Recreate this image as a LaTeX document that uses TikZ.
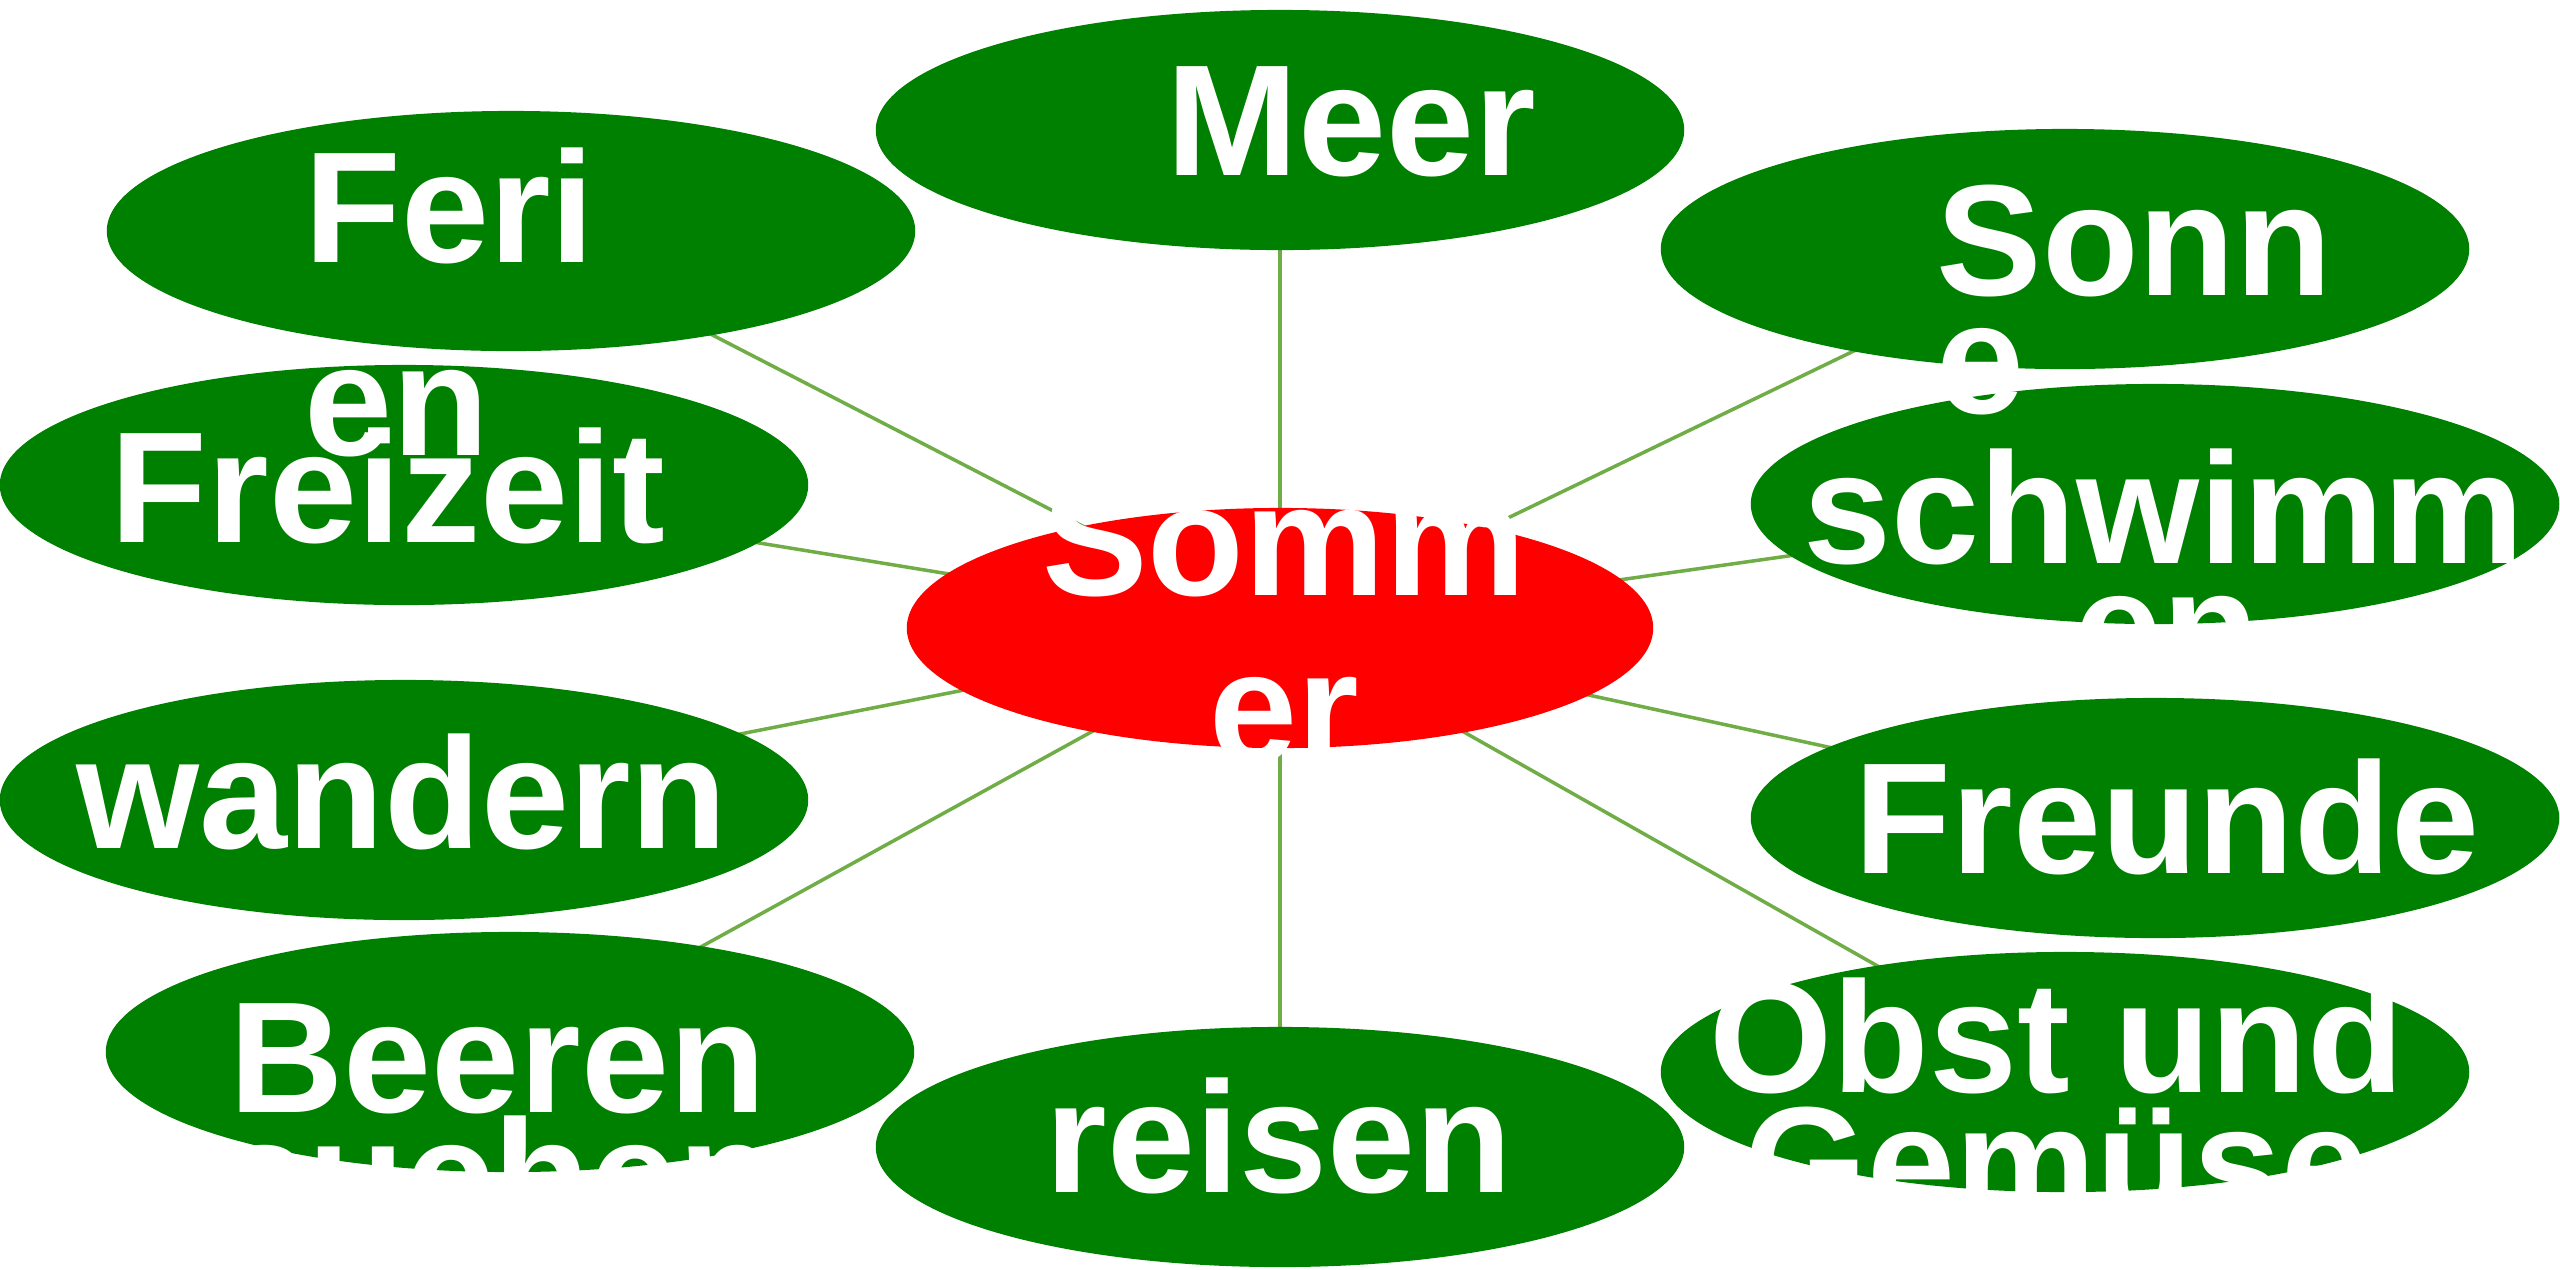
\documentclass[tikz,border=0pt]{standalone}
\usepackage{fontspec}
\setmainfont{Liberation Sans}
\usetikzlibrary{shapes.geometric}
\usetikzlibrary{backgrounds}
\definecolor{leafgreen}{RGB}{0,128,0}
\definecolor{linkgreen}{RGB}{112,173,71}

\begin{document}
\begin{tikzpicture}
[x = 0.01cm, y = -0.01cm,
link/.style = {draw = linkgreen, line width = 1pt},
topic/.style = {ellipse, fill = leafgreen, minimum width = 8.08cm, minimum height = 2.4cm, inner sep = 0pt},
core/.style = {ellipse, fill = red, minimum width = 7.46cm, minimum height = 2.4cm, inner sep = 0pt},
word/.style = {text = white, font = \bfseries\fontsize{45}{54}\selectfont, inner sep = 0pt}]

\useasboundingbox (0, 0) rectangle (2560, 1269);

\node[topic] (meer) at (1280, 130) {};
\node[topic] (ferien) at (511, 231) {};
\node[topic] (sonne) at (2065, 249) {};
\node[topic] (freizeit) at (404, 485) {};
\node[topic] (schwimmen) at (2155, 504) {};
\node[core] (sommer) at (1280, 628) {};
\node[topic] (wandern) at (404, 800) {};
\node[topic] (freunde) at (2155, 818) {};
\node[topic] (beeren) at (510, 1052) {};
\node[topic] (obst) at (2065, 1072) {};
\node[topic] (reisen) at (1280, 1147) {};

\begin{scope}[on background layer]
\draw[link] (sommer.center) -- (meer.center);
\draw[link] (sommer.center) -- (ferien.center);
\draw[link] (sommer.center) -- (sonne.center);
\draw[link] (sommer.center) -- (freizeit.center);
\draw[link] (sommer.center) -- (schwimmen.center);
\draw[link] (sommer.center) -- (wandern.center);
\draw[link] (sommer.center) -- (freunde.center);
\draw[link] (sommer.center) -- (beeren.center);
\draw[link] (sommer.center) -- (obst.center);
\draw[link] (sommer.center) -- (reisen.center);
\end{scope}

% labels, wrapped as in the picture
\node[word, anchor = base] (meer text) at (1351, 175) {Meer};
\node[word, anchor = base west] (ferien text) at (304, 262) {Feri};
\node[word, anchor = base west] (ferien rest) at (304, 455) {en};
\node[word, anchor = base west] (sonne text) at (1936, 295) {Sonn};
\node[word, anchor = base west] (sonne rest) at (1936, 413) {e};
\node[word, anchor = base] (freizeit text) at (388, 542) {Freizeit};
\node[word, anchor = base] (schwimmen text) at (2164, 563) {schwimm};
\node[word, anchor = base] (schwimmen rest) at (2167, 681) {en};
\node[word, anchor = base] (sommer text) at (1284, 595) {Somm};
\node[word, anchor = base] (sommer rest) at (1284, 762) {er};
\node[word, anchor = base] (wandern text) at (402, 848) {wandern};
\node[word, anchor = base] (freunde text) at (2167, 873) {Freunde};
\node[word, anchor = base] (beeren text) at (498, 1112) {Beeren};
\node[word, anchor = base] (beeren rest) at (498, 1230) {suchen};
\node[word, anchor = base] (obst text) at (2057, 1092) {Obst und};
\node[word, anchor = base] (obst rest) at (2057, 1217) {Gemüse};
\node[word, anchor = base] (reisen text) at (1279, 1192) {reisen};
\end{tikzpicture}
\end{document}
